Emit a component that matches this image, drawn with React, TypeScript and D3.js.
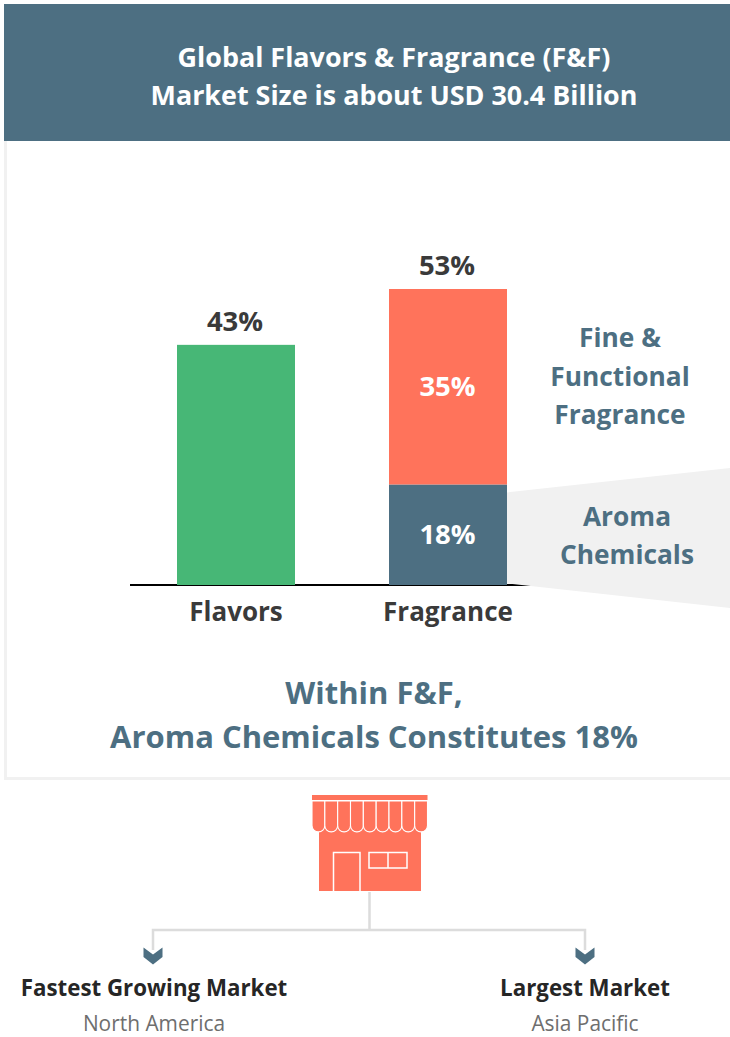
import React from 'react'
import * as d3 from 'd3'

const width = 730
const height = 1037
const font = '"Open Sans", sans-serif'

const slate = '#4d6f82'
const coral = '#ff735b'
const green = '#47b776'
const panelGrey = '#f1f1f1'
const lineGrey = '#dcdcdc'

const titleLines = ['Global Flavors & Fragrance (F&F)', 'Market Size is about USD 30.4 Billion']
const categories = ['Flavors', 'Fragrance']
const flavorShare = [43]
const fragranceSegments = [18, 35]
const segmentColors = [slate, coral]
const totals = [43, 53]
const summaryLines = ['Within F&F,', 'Aroma Chemicals Constitutes 18%']
const fineLabel = ['Fine &', 'Functional', 'Fragrance']
const aromaLabel = ['Aroma', 'Chemicals']
const awningSlots = d3.range(9)
const markets = [
  {title: 'Fastest Growing Market', region: 'North America', titleX: 154, arrowX: 153},
  {title: 'Largest Market', region: 'Asia Pacific', titleX: 585, arrowX: 585},
]

const xScale = d3.scaleBand<string>().domain(categories).range([177, 507]).paddingInner(94 / 212).paddingOuter(0)
const yScale = d3.scaleLinear().domain([0, 53]).range([585, 289])

const stack = d3.stack<number[]>().keys(['0', '1']).value((d, k) => d[+k])
const fragranceStack = stack([fragranceSegments])

const connector = d3.path()
connector.moveTo(369.5, 892)
connector.lineTo(369.5, 930)
connector.moveTo(153, 950)
connector.lineTo(153, 930)
connector.lineTo(585, 930)
connector.lineTo(585, 950)

const chevron = (x: number) =>
  `M${x - 9.5},947.5 L${x},954.5 L${x + 9.5},947.5 L${x + 9.5},957 L${x},964.5 L${x - 9.5},957 Z`

const App = () => {
  const bw = xScale.bandwidth()
  const flavorsX = xScale('Flavors') as number
  const fragranceX = xScale('Fragrance') as number
  const barEnd = fragranceX + bw

  return (
    <svg
      width={width}
      height={height}
      style={{position: 'absolute', left: 0, top: 0, fontFamily: font}}
    >
      <rect x={0} y={0} width={width} height={height} fill="#fff" />

      {/* frame */}
      <rect x={4} y={140} width={3} height={640} fill={panelGrey} />
      <rect x={4} y={777} width={726} height={3} fill={panelGrey} />

      {/* banner */}
      <rect x={4} y={4} width={726} height={137} fill={slate} />
      {titleLines.map((t, i) => (
        <text key={t} x={394} y={67 + i * 38} textAnchor="middle" fontSize={26.9} fontWeight={700} fill="#fff">
          {t}
        </text>
      ))}

      {/* axis, the callout sits over its right end */}
      <line x1={130} x2={531} y1={585} y2={585} stroke="#000" strokeWidth={2} />
      <path
        d={`M${barEnd},${yScale(18) + 8} L730,468 L730,608 L${barEnd},583.5 Z`}
        fill={panelGrey}
      />

      {/* bars */}
      {flavorShare.map(v => (
        <rect key={v} x={flavorsX} y={yScale(v)} width={bw} height={yScale(0) - yScale(v)} fill={green} />
      ))}
      {fragranceStack.map((s, i) => (
        <g key={s.key}>
          <rect
            x={fragranceX}
            y={yScale(s[0][1])}
            width={bw}
            height={yScale(s[0][0]) - yScale(s[0][1])}
            fill={segmentColors[i]}
          />
          <text
            x={fragranceX + bw / 2 - 0.5}
            y={(yScale(s[0][0]) + yScale(s[0][1])) / 2 + 9.5}
            textAnchor="middle"
            fontSize={27.5}
            fontWeight={700}
            fill="#fff"
          >
            {fragranceSegments[i]}%
          </text>
        </g>
      ))}
      {totals.map((v, i) => (
        <text
          key={categories[i]}
          x={(xScale(categories[i]) as number) + bw / 2 - 1}
          y={yScale(v) - 14}
          textAnchor="middle"
          fontSize={27.5}
          fontWeight={700}
          fill="#3a3a3a"
        >
          {v}%
        </text>
      ))}

      {categories.map(c => (
        <text
          key={c}
          x={(xScale(c) as number) + bw / 2}
          y={621}
          textAnchor="middle"
          fontSize={26}
          fontWeight={700}
          fill="#3a3a3a"
        >
          {c}
        </text>
      ))}

      {/* side labels */}
      {fineLabel.map((t, i) => (
        <text key={t} x={620} y={347 + i * 38.5} textAnchor="middle" fontSize={26.3} fontWeight={700} fill={slate}>
          {t}
        </text>
      ))}
      {aromaLabel.map((t, i) => (
        <text key={t} x={627} y={526 + i * 38} textAnchor="middle" fontSize={26.3} fontWeight={700} fill={slate}>
          {t}
        </text>
      ))}

      {/* summary */}
      {summaryLines.map((t, i) => (
        <text key={t} x={374} y={704 + i * 44} textAnchor="middle" fontSize={31} fontWeight={700} fill={slate}>
          {t}
        </text>
      ))}

      {/* shop icon */}
      <g fill={coral}>
        <rect x={312} y={795} width={115.5} height={5} />
        <rect x={319} y={825} width={102} height={66} />
        {awningSlots.map(i => {
          const slot = 115.5 / 9
          const sx = 312 + i * slot
          return (
            <path
              key={i}
              d={`M${sx},801 H${sx + slot} V${825.5} A${slot / 2},${slot / 2} 0 0 1 ${sx},825.5 Z`}
              stroke="#fff"
              strokeWidth={1.1}
            />
          )
        })}
        <path d="M333.5,891 V852.5 H360 V891" fill="none" stroke="#fff" strokeWidth={1.5} />
        <rect x={369} y={852.5} width={38} height={15.5} fill="none" stroke="#fff" strokeWidth={1.5} />
        <line x1={388} x2={388} y1={852.5} y2={868} stroke="#fff" strokeWidth={1.5} />
      </g>

      {/* connector */}
      <path d={connector.toString()} fill="none" stroke={lineGrey} strokeWidth={2.5} />
      {markets.map(m => (
        <g key={m.title}>
          <path d={chevron(m.arrowX)} fill={slate} />
          <text x={m.titleX} y={996} textAnchor="middle" fontSize={22.3} fontWeight={700} fill="#262626">
            {m.title}
          </text>
          <text x={m.titleX} y={1031} textAnchor="middle" fontSize={20.9} fill="#6e6e6e">
            {m.region}
          </text>
        </g>
      ))}
    </svg>
  )
}

export default App
